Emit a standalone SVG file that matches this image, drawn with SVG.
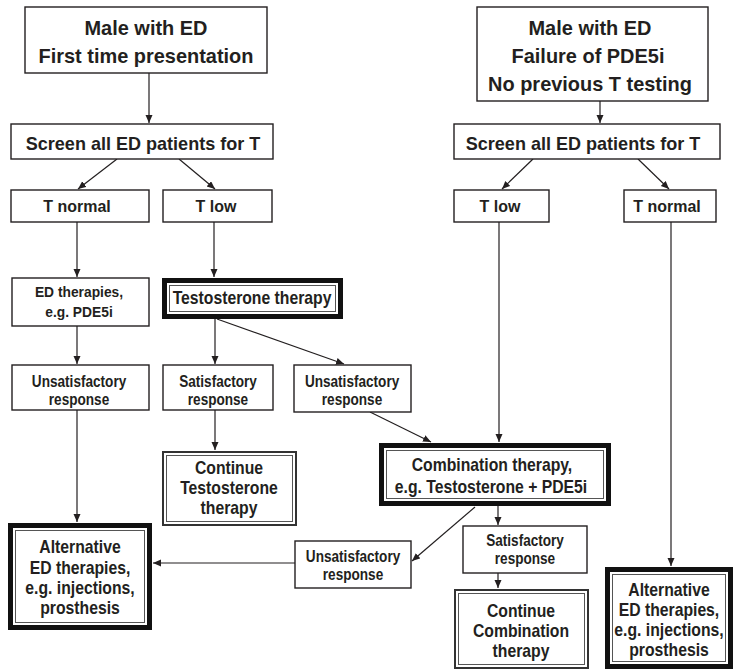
<svg xmlns="http://www.w3.org/2000/svg" width="736" height="672" viewBox="0 0 736 672">
<style>
text{font-family:"Liberation Sans",Arial,sans-serif;font-weight:bold;fill:#231f20;text-anchor:middle;transform-box:fill-box;transform-origin:center}
.box{fill:#fff;stroke:#231f20;stroke-width:1.4}
.thk{fill:#fff;stroke:#111;stroke-width:5}
.thin{fill:none;stroke:#555;stroke-width:1}
.dbl{fill:#fff;stroke:#333;stroke-width:2}
.t20{font-size:21px;transform:scaleX(0.95)}
.t18{font-size:19px;transform:scaleX(0.95)}
.t16{font-size:17px;transform:scaleX(0.94)}
.tb{font-size:17.5px;transform:scaleX(0.9)}
.t14{font-size:15px;transform:scaleX(0.92)}
.t13{font-size:16px;transform:scaleX(0.85)}
.con line{stroke:#231f20;stroke-width:1.2;marker-end:url(#ah)}
</style>
<defs>
<marker id="ah" markerUnits="userSpaceOnUse" markerWidth="9" markerHeight="8" refX="8" refY="3.5" orient="auto">
<path d="M0,0 L8,3.5 L0,7 z" fill="#231f20"/>
</marker>
</defs>
<rect width="736" height="672" fill="#fff"/>
<g class="con">
<line x1="149" y1="73" x2="149" y2="123"/>
<line x1="117" y1="159" x2="78" y2="189"/>
<line x1="179" y1="159" x2="215" y2="189"/>
<line x1="77" y1="222" x2="77" y2="277"/>
<line x1="214" y1="222" x2="214" y2="277"/>
<line x1="77" y1="326" x2="77" y2="364"/>
<line x1="215" y1="319" x2="215" y2="364"/>
<line x1="217" y1="319" x2="344" y2="364"/>
<line x1="77" y1="410" x2="77" y2="522"/>
<line x1="215" y1="410" x2="215" y2="450"/>
<line x1="370" y1="412" x2="431" y2="442"/>
<line x1="600" y1="101" x2="600" y2="123"/>
<line x1="533" y1="159" x2="502" y2="189"/>
<line x1="638" y1="159" x2="669" y2="189"/>
<line x1="499" y1="222" x2="499" y2="442"/>
<line x1="671" y1="222" x2="671" y2="566"/>
<line x1="498" y1="506" x2="498" y2="525"/>
<line x1="475" y1="507" x2="412" y2="561"/>
<line x1="498" y1="573" x2="498" y2="588"/>
<line x1="295" y1="563" x2="153" y2="563"/>
</g>
<g id="title1"><rect class="box" x="25" y="7" width="242" height="66"/><text class="t20" x="146" y="35">Male with ED</text><text class="t20" x="146" y="63">First time presentation</text></g>
<g id="title2"><rect class="box" x="477" y="7" width="231" height="94"/><text class="t20" x="590" y="35">Male with ED</text><text class="t20" x="588" y="63">Failure of PDE5i</text><text class="t20" x="590" y="91">No previous T testing</text></g>
<g id="screen1"><rect class="box" x="11" y="124" width="262" height="35"/><text class="t18" x="143" y="150">Screen all ED patients for T</text></g>
<g id="screen2"><rect class="box" x="454" y="124" width="266" height="35"/><text class="t18" x="583" y="150">Screen all ED patients for T</text></g>
<g id="tnormal1"><rect class="box" x="11" y="190" width="138" height="32"/><text class="t16" x="77" y="212">T normal</text></g>
<g id="tlow1"><rect class="box" x="163" y="190" width="109" height="32"/><text class="t16" x="216" y="212">T low</text></g>
<g id="tlow2"><rect class="box" x="454" y="190" width="95" height="32"/><text class="t16" x="500" y="212">T low</text></g>
<g id="tnormal2"><rect class="box" x="624" y="190" width="92" height="32"/><text class="t16" x="667" y="212">T normal</text></g>
<g id="edther"><rect class="box" x="12" y="278" width="137" height="48"/><text class="t14" x="79" y="297">ED therapies,</text><text class="t14" x="79" y="317">e.g. PDE5i</text></g>
<g id="testo"><rect class="thk" x="164.5" y="280.5" width="176" height="36"/><rect class="thin" x="169.5" y="285.5" width="166" height="26"/><text class="tb" x="252" y="304">Testosterone therapy</text></g>
<g id="unsat1"><rect class="box" x="12" y="365" width="137" height="45"/><text class="t13" x="79" y="387">Unsatisfactory</text><text class="t13" x="79" y="405">response</text></g>
<g id="sat1"><rect class="box" x="163" y="365" width="110" height="45"/><text class="t13" x="218" y="387">Satisfactory</text><text class="t13" x="218" y="405">response</text></g>
<g id="unsat2"><rect class="box" x="294" y="365" width="117" height="47"/><text class="t13" x="352" y="387">Unsatisfactory</text><text class="t13" x="352" y="405">response</text></g>
<g id="contTesto"><rect class="dbl" x="163" y="452" width="133" height="73"/><rect class="thin" x="166.5" y="455.5" width="126" height="66"/><text class="tb" x="229" y="474">Continue</text><text class="tb" x="229" y="494">Testosterone</text><text class="tb" x="229" y="514">therapy</text></g>
<g id="combo"><rect class="thk" x="381.5" y="445.5" width="227" height="58"/><rect class="thin" x="386.5" y="450.5" width="217" height="48"/><text class="tb" x="492" y="471">Combination therapy,</text><text class="tb" x="491" y="493">e.g. Testosterone + PDE5i</text></g>
<g id="alt1"><rect class="thk" x="10.5" y="525.5" width="139" height="102"/><rect class="thin" x="15.5" y="530.5" width="129" height="92"/><text class="tb" x="80" y="553">Alternative</text><text class="tb" x="80" y="574">ED therapies,</text><text class="tb" x="80" y="594">e.g. injections,</text><text class="tb" x="80" y="614">prosthesis</text></g>
<g id="unsat3"><rect class="box" x="295" y="541" width="116" height="47"/><text class="t13" x="353" y="562">Unsatisfactory</text><text class="t13" x="353" y="580">response</text></g>
<g id="sat2"><rect class="box" x="463" y="526" width="124" height="47"/><text class="t13" x="525" y="546">Satisfactory</text><text class="t13" x="525" y="564">response</text></g>
<g id="contCombo"><rect class="dbl" x="455" y="590" width="133" height="78"/><rect class="thin" x="458.5" y="593.5" width="126" height="71"/><text class="tb" x="521" y="617">Continue</text><text class="tb" x="521" y="637">Combination</text><text class="tb" x="521" y="657">therapy</text></g>
<g id="alt2"><rect class="thk" x="607.5" y="569.5" width="123" height="97"/><rect class="thin" x="612.5" y="574.5" width="113" height="87"/><text class="tb" x="669" y="596">Alternative</text><text class="tb" x="669" y="616">ED therapies,</text><text class="tb" x="669" y="636">e.g. injections,</text><text class="tb" x="669" y="656">prosthesis</text></g>
</svg>
